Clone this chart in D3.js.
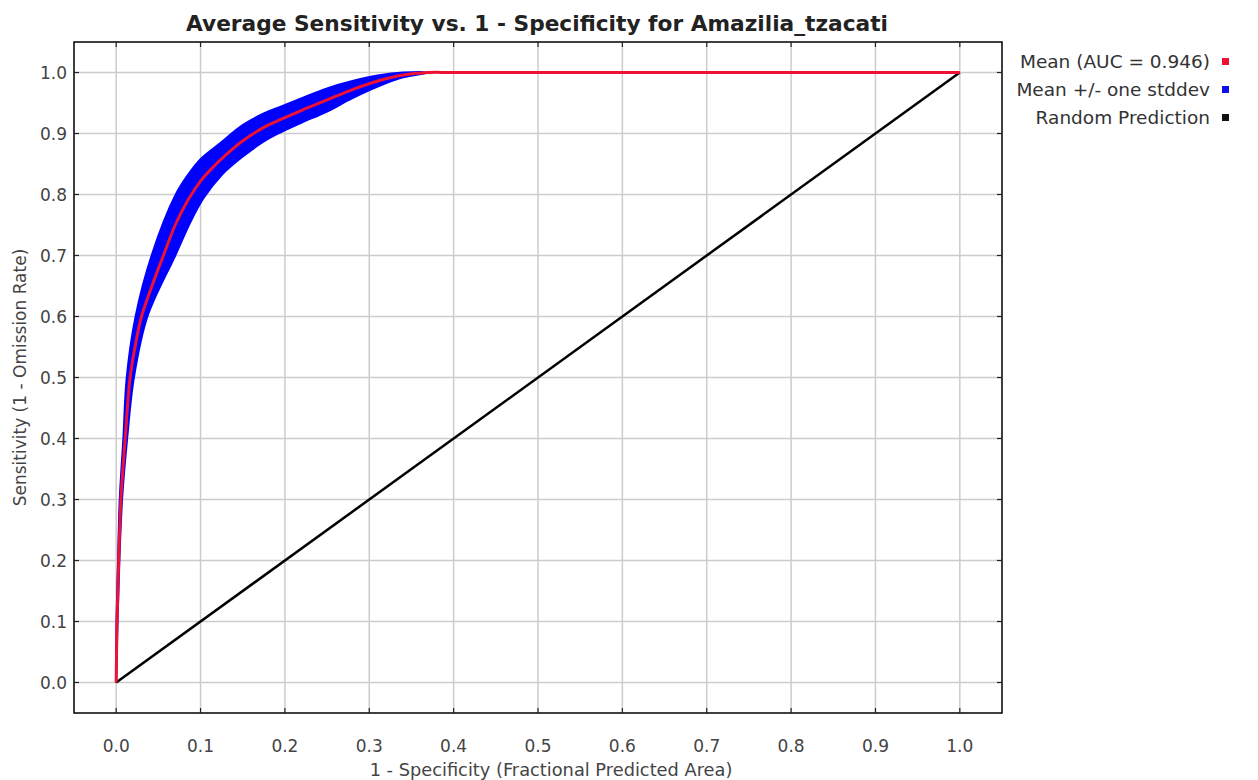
<!DOCTYPE html>
<html>
<head>
<meta charset="utf-8">
<script src="https://cdn.jsdelivr.net/npm/d3@7"></script>
<style>
  body { margin: 0; background: #fff; }
  text { font-family: "DejaVu Sans", Verdana, sans-serif; }
</style>
</head>
<body>
<script>
// mean ROC curve
const fpr = [0, 0.001, 0.003, 0.0056, 0.0107, 0.0165, 0.023, 0.03, 0.045, 0.056, 0.07, 0.086, 0.1, 0.115, 0.13, 0.149, 0.175, 0.195, 0.22, 0.25, 0.28, 0.31, 0.34, 0.37, 0.4, 1.0];
const tprMean = [0, 0.1, 0.2, 0.3, 0.4, 0.5, 0.555, 0.6, 0.66, 0.7, 0.75, 0.793, 0.822, 0.845, 0.865, 0.887, 0.91, 0.923, 0.938, 0.955, 0.972, 0.986, 0.996, 1.0, 1.0, 1.0];

// edges of the +/- one stddev band (upper-left edge and lower-right edge)
const upperX = [0, 0.0004, 0.0022, 0.0042, 0.0085, 0.0125, 0.023, 0.042, 0.0706, 0.085, 0.1, 0.125, 0.149, 0.175, 0.195, 0.22, 0.25, 0.28, 0.31, 0.34, 0.37];
const upperY = [0, 0.1, 0.2, 0.3, 0.4, 0.5, 0.6, 0.7, 0.8, 0.832, 0.858, 0.886, 0.913, 0.933, 0.944, 0.958, 0.974, 0.986, 0.995, 1.0, 1.0];
const lowerX = [0, 0.0016, 0.0038, 0.007, 0.013, 0.021, 0.037, 0.07, 0.088, 0.104, 0.125, 0.149, 0.175, 0.195, 0.22, 0.25, 0.28, 0.31, 0.34, 0.37];
const lowerY = [0, 0.1, 0.2, 0.3, 0.4, 0.5, 0.6, 0.7, 0.755, 0.795, 0.832, 0.861, 0.887, 0.902, 0.918, 0.936, 0.958, 0.977, 0.992, 1.0];

const randomLine = [[0, 0], [1, 1]];

const xTicks = [0, 0.1, 0.2, 0.3, 0.4, 0.5, 0.6, 0.7, 0.8, 0.9, 1.0];
const yTicks = [0, 0.1, 0.2, 0.3, 0.4, 0.5, 0.6, 0.7, 0.8, 0.9, 1.0];

const legendLabels = ["Mean (AUC = 0.946)", "Mean +/- one stddev", "Random Prediction"];
const legendColors = ["#ee1133", "#1010ee", "#111111"];

const titleText = "Average Sensitivity vs. 1 - Specificity for Amazilia_tzacati";
const xLabel = "1 - Specificity (Fractional Predicted Area)";
const yLabel = "Sensitivity (1 - Omission Rate)";

const width = 1258;
const height = 780;
const plot = { left: 74, right: 1002, top: 42, bottom: 713 };

const x = d3.scaleLinear().domain([-0.05, 1.05]).range([plot.left, plot.right]);
const y = d3.scaleLinear().domain([-0.05, 1.05]).range([plot.bottom, plot.top]);

const svg = d3.select("body").append("svg")
  .attr("width", width)
  .attr("height", height);

// grid
const grid = svg.append("g");
grid.selectAll("line.vx").data(xTicks).join("line")
  .attr("x1", d => x(d)).attr("x2", d => x(d))
  .attr("y1", plot.top).attr("y2", plot.bottom)
  .attr("stroke", "#cccccc").attr("stroke-width", 1.5);
grid.selectAll("line.hy").data(yTicks).join("line")
  .attr("y1", d => y(d)).attr("y2", d => y(d))
  .attr("x1", plot.left).attr("x2", plot.right)
  .attr("stroke", "#cccccc").attr("stroke-width", 1.5);

const smoothLine = d3.line()
  .x(d => x(d[0]))
  .y(d => y(d[1]))
  .curve(d3.curveCatmullRom.alpha(0.5));

// stddev band: upper edge out, lower edge back, closed
const upper = upperX.map((v, i) => [v, upperY[i]]);
const lower = lowerX.map((v, i) => [v, lowerY[i]]).reverse();
const ring = upper.concat(lower.slice(1));

svg.append("path")
  .datum(ring)
  .attr("d", d => smoothLine(d) + "Z")
  .attr("fill", "#0000ff")
  .attr("stroke", "#0000ff")
  .attr("stroke-width", 2);

// random prediction
svg.append("path")
  .datum(randomLine)
  .attr("d", d3.line().x(d => x(d[0])).y(d => y(d[1])))
  .attr("stroke", "#000")
  .attr("stroke-width", 2.5)
  .attr("fill", "none");

// mean
const pts = fpr.map((f, i) => [f, tprMean[i]]);
svg.append("path")
  .datum(pts)
  .attr("d", smoothLine)
  .attr("stroke", "#ee1133")
  .attr("stroke-width", 3)
  .attr("fill", "none");

// frame
svg.append("rect")
  .attr("x", plot.left).attr("y", plot.top)
  .attr("width", plot.right - plot.left).attr("height", plot.bottom - plot.top)
  .attr("fill", "none").attr("stroke", "#000").attr("stroke-width", 1.5);

// inward ticks on all four sides
const tk = 5;
const ticks = svg.append("g").attr("stroke", "#222").attr("stroke-width", 1.2);
xTicks.forEach(d => {
  ticks.append("line").attr("x1", x(d)).attr("x2", x(d)).attr("y1", plot.bottom).attr("y2", plot.bottom - tk);
  ticks.append("line").attr("x1", x(d)).attr("x2", x(d)).attr("y1", plot.top).attr("y2", plot.top + tk);
});
yTicks.forEach(d => {
  ticks.append("line").attr("y1", y(d)).attr("y2", y(d)).attr("x1", plot.left).attr("x2", plot.left + tk);
  ticks.append("line").attr("y1", y(d)).attr("y2", y(d)).attr("x1", plot.right).attr("x2", plot.right - tk);
});

// tick labels
svg.append("g").selectAll("text").data(xTicks).join("text")
  .attr("x", d => x(d)).attr("y", 752)
  .attr("text-anchor", "middle")
  .attr("font-size", 17).attr("fill", "#444")
  .text(d => d3.format(".1f")(d));

svg.append("g").selectAll("text").data(yTicks).join("text")
  .attr("x", 67).attr("y", d => y(d) + 6)
  .attr("text-anchor", "end")
  .attr("font-size", 17).attr("fill", "#444")
  .text(d => d3.format(".1f")(d));

// title and axis labels
svg.append("text")
  .attr("x", 537).attr("y", 31)
  .attr("text-anchor", "middle")
  .attr("font-size", 21.7).attr("font-weight", "bold").attr("fill", "#222")
  .text(titleText);

svg.append("text")
  .attr("x", 551).attr("y", 776)
  .attr("text-anchor", "middle")
  .attr("font-size", 17.8).attr("fill", "#444")
  .text(xLabel);

svg.append("text")
  .attr("transform", `translate(26, ${(plot.top + plot.bottom) / 2}) rotate(-90)`)
  .attr("text-anchor", "middle")
  .attr("font-size", 17).attr("fill", "#444")
  .text(yLabel);

// legend
const legend = svg.append("g");
legendLabels.forEach((lab, i) => {
  const ly = 62 + i * 28;
  legend.append("text")
    .attr("x", 1210).attr("y", ly + 6)
    .attr("text-anchor", "end")
    .attr("font-size", 18.5).attr("fill", "#333")
    .text(lab);
  legend.append("rect")
    .attr("x", 1222).attr("y", ly - 4)
    .attr("width", 7).attr("height", 7)
    .attr("fill", legendColors[i]);
});
</script>
</body>
</html>
